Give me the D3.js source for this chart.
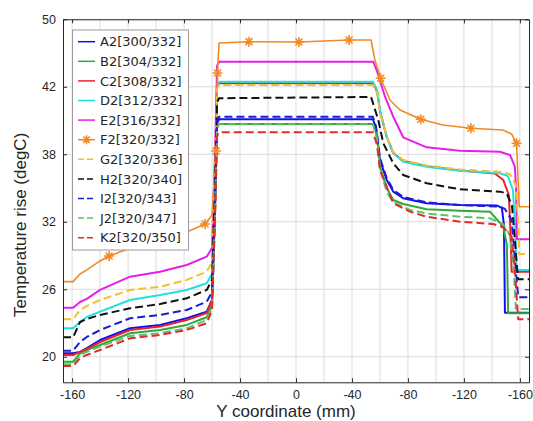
<!DOCTYPE html>
<html>
<head>
<meta charset="utf-8">
<script src="https://cdn.jsdelivr.net/npm/d3@7"></script>
<style>
  body { margin: 0; background: #fff; }
  svg text { font-family: "Liberation Sans", Arial, sans-serif; fill: #262626; }
  .legend text { font-family: "DejaVu Sans", sans-serif; }
</style>
</head>
<body>
<svg width="533" height="421"></svg>
<script>
// tick labels (the picture labels both halves with negative numbers)
const xTicks = [-160, -120, -80, -40, 0, 40, 80, 120, 160];
const xTickLabels = ["-160", "-120", "-80", "-40", "0", "-40", "-80", "-120", "-160"];
const yTicks = [20, 26, 32, 38, 44, 50];
const yTickLabels = ["20", "26", "32", "38", "42", "50"];

// series: [Y coordinate, temperature rise]
const A2 = [[-166.5,20.31],[-159.3,20.31],[-154.3,20.43],[-149.5,20.76],[-140,21.49],[-118.6,22.53],[-97.1,22.83],[-78.1,23.42],[-63.8,24.01],[-60,25.05],[-57.9,33.08],[-56.4,40.76],[-55,41.11],[55,41.11],[57.1,40.34],[60,37.49],[64.8,35.72],[69.5,34.68],[76.6,34.09],[93.4,33.64],[117.1,33.49],[143.4,33.45],[147.1,33.23],[148.6,31.72],[149.3,23.92],[166.5,23.92]];
const B2 = [[-166.5,19.56],[-159.3,19.56],[-154.3,20.31],[-149.5,20.6],[-140,21.05],[-118.6,22.09],[-97.1,22.38],[-78.1,22.83],[-63.8,23.51],[-60,24.6],[-57.9,32.65],[-56.4,40.34],[-55,40.69],[55,40.69],[57.9,39.72],[60,36.9],[64.8,35.01],[69.5,33.94],[76.6,33.58],[93.4,33.12],[117.1,32.99],[138.6,32.9],[148.1,31.56],[150.7,29.94],[151.6,23.87],[166.5,23.87]];
const C2 = [[-166.5,20.16],[-159.3,20.16],[-154.3,20.43],[-149.5,20.69],[-140,21.31],[-118.6,22.38],[-97.1,22.69],[-78.1,23.27],[-63.8,23.89],[-60,25.05],[-57.9,34.68],[-56.4,43.96],[-55,44.31],[55,44.31],[57.9,43.63],[60,41.85],[64.8,39.54],[69.5,38.12],[76.6,37.4],[93.4,36.93],[117.1,36.56],[142.1,36.29],[148.1,35.72],[152.1,34.38],[153.2,31.27],[154.1,27.56],[166.5,27.56]];
const D2 = [[-166.5,22.53],[-159.3,22.53],[-154.3,23.09],[-149.5,23.54],[-140,24.01],[-118.6,25.05],[-97.1,25.49],[-78.1,25.94],[-63.8,26.53],[-60,27.36],[-57.9,35.9],[-56.4,44.1],[-55,44.45],[55,44.45],[57.9,43.72],[60,41.94],[64.8,39.56],[69.5,38.09],[76.6,37.34],[93.4,36.9],[117.1,36.54],[145.7,36.31],[151.4,36.07],[155,34.83],[156.8,31.27],[157.6,27.72],[166.5,27.72]];
const E2 = [[-166.5,24.36],[-159.3,24.36],[-154.3,24.87],[-149.5,25.14],[-140,25.94],[-118.6,27.12],[-97.1,27.56],[-78.1,28.16],[-63.8,28.9],[-60,29.67],[-57.9,37.95],[-56.4,45.88],[-55,46.23],[55.2,46.23],[57.6,45.49],[63.6,43.12],[69.5,41.34],[76.6,39.51],[93.4,38.62],[117.1,38.32],[145.7,38.23],[152.9,37.94],[156.4,36.9],[157.4,34.5],[157.9,30.44],[166.5,30.44]];
const F2 = [[-166.5,26.68],[-159.3,26.68],[-154.3,27.36],[-149.5,27.72],[-140,28.52],[-133.6,28.96],[-118.6,29.64],[-97.1,30.38],[-78.1,31.09],[-65,31.8],[-60,32.6],[-57.1,38.29],[-56.1,45.23],[-55,47.89],[-33.6,48.01],[2.1,47.98],[37.9,48.16],[53.6,48.16],[56.4,46.38],[60.5,44.76],[67.1,42.83],[74.3,41.94],[89.1,41.11],[105,40.6],[125,40.31],[147.9,40.16],[154.1,39.8],[157.6,38.98],[159.5,33.34],[166.5,33.34]];
const G2 = [[-166.5,23.33],[-159.3,23.33],[-154.3,24.16],[-149.5,24.52],[-140,25.05],[-118.6,25.94],[-97.1,26.23],[-78.1,26.83],[-63.8,27.56],[-60,28.43],[-57.9,36.29],[-56.4,43.8],[-55,44.16],[55,44.16],[57.9,43.45],[60,41.76],[64.8,39.54],[69.5,38.2],[76.6,37.49],[93.4,37.0],[117.1,36.65],[145.7,36.45],[152.9,36.25],[157.1,35.27],[159,31.27],[159.5,29.14],[166.5,29.14]];
const H2 = [[-166.5,21.73],[-159.3,21.73],[-154.3,23.09],[-149.5,23.36],[-140,23.72],[-118.6,24.31],[-97.1,24.69],[-78.1,25.2],[-63.8,25.94],[-60,26.83],[-57.9,34.9],[-56.4,42.62],[-55,42.98],[53.6,43.1],[58.8,41.05],[62.4,38.98],[69.5,37.2],[76.6,36.16],[93.4,35.42],[117.1,34.89],[145.7,34.68],[150.5,34.53],[154.3,33.49],[156.4,30.38],[158.6,26.89],[166.5,26.89]];
const I2 = [[-166.5,20.54],[-159.3,20.54],[-154.3,21.31],[-149.5,21.76],[-140,22.38],[-118.6,23.42],[-97.1,23.72],[-78.1,24.16],[-63.8,24.9],[-60,25.76],[-57.9,33.55],[-56.4,41.0],[-55,41.34],[55,41.34],[57.1,40.52],[60,37.67],[64.8,35.89],[69.5,34.83],[76.6,34.2],[93.4,33.72],[117.1,33.49],[145.7,33.34],[149.3,33.14],[154.1,32.16],[156.4,28.6],[158.8,25.29],[166.5,25.29]];
const J2 = [[-166.5,19.33],[-159.3,19.33],[-154.3,20.16],[-149.5,20.43],[-140,20.9],[-118.6,21.85],[-97.1,22.09],[-78.1,22.53],[-63.8,23.27],[-60,24.34],[-57.9,32.5],[-56.4,40.3],[-55,40.66],[55,40.66],[57.9,39.4],[60,36.78],[64.8,34.65],[69.5,33.76],[81.4,33.05],[93.4,32.74],[117.1,32.45],[138.6,32.31],[147.9,31.8],[152.9,30.83],[155.7,27.72],[157.1,24.25],[166.5,24.25]];
const K2 = [[-166.5,19.18],[-159.3,19.18],[-154.3,19.87],[-149.5,20.16],[-140,20.6],[-118.6,21.64],[-97.1,21.94],[-78.1,22.38],[-63.8,22.98],[-60,24.16],[-57.9,32.05],[-56.4,39.6],[-55,39.96],[55,39.96],[57.9,38.83],[60,36.6],[69.5,33.64],[81.4,32.9],[93.4,32.45],[117.1,32.01],[140.9,31.8],[148.1,31.51],[154.1,30.68],[156.4,27.72],[158.8,23.33],[166.5,23.33]];

// asterisk markers sit on these F2 points
const f2Markers = [-133.6, -65, -57.1, -56.1, -33.6, 2.1, 37.9, 60.5, 89.1, 125, 157.6];

const seriesNames = ["A2[300/332]", "B2[304/332]", "C2[308/332]", "D2[312/332]", "E2[316/332]", "F2[320/332]",
  "G2[320/336]", "H2[320/340]", "I2[320/343]", "J2[320/347]", "K2[320/350]"];
const seriesData = [A2, B2, C2, D2, E2, F2, G2, H2, I2, J2, K2];
const seriesColors = ["#1010f0", "#2eaa3a", "#e8232a", "#22e0e0", "#e81ee8", "#f08a24",
  "#f2c02e", "#111111", "#1c1cd0", "#5fbf6a", "#e62a2a"];
const seriesDashed = [false, false, false, false, false, false, true, true, true, true, true];

const svg = d3.select("svg");
const margin = {left: 63, right: 4, top: 19.3, bottom: 38.7};
const W = +svg.attr("width"), H = +svg.attr("height");

const x = d3.scaleLinear().domain([-166.5, 166.5]).range([margin.left, W - margin.right]);
const y = d3.scaleLinear().domain([17.73, 50]).range([H - margin.bottom, margin.top]);

// grid
const grid = svg.append("g").attr("stroke", "#dcdcdc").attr("stroke-width", 1);
grid.selectAll(".gx").data(d3.range(-160, 161, 20)).join("line")
  .attr("x1", d => x(d)).attr("x2", d => x(d))
  .attr("y1", y.range()[0]).attr("y2", y.range()[1]);
grid.selectAll(".gy").data(yTicks).join("line")
  .attr("x1", x.range()[0]).attr("x2", x.range()[1])
  .attr("y1", d => y(d)).attr("y2", d => y(d));

// lines
const line = d3.line().x(d => x(d[0])).y(d => y(d[1]));
svg.append("clipPath").attr("id", "clip").append("rect")
  .attr("x", x.range()[0]).attr("y", y.range()[1])
  .attr("width", x.range()[1] - x.range()[0]).attr("height", y.range()[0] - y.range()[1]);

const plot = svg.append("g").attr("clip-path", "url(#clip)");
seriesData.forEach((s, i) => {
  plot.append("path")
    .datum(s)
    .attr("d", line)
    .attr("fill", "none")
    .attr("stroke", seriesColors[i])
    .attr("stroke-width", i === 5 ? 1.6 : 2)
    .attr("stroke-linejoin", "round")
    .attr("stroke-dasharray", seriesDashed[i] ? "8,4" : null);
});

// asterisk marker
function star(g, cx, cy, r, color) {
  const d = `M${cx - r},${cy}L${cx + r},${cy}M${cx},${cy - r}L${cx},${cy + r}` +
    `M${cx - r * 0.7},${cy - r * 0.7}L${cx + r * 0.7},${cy + r * 0.7}` +
    `M${cx - r * 0.7},${cy + r * 0.7}L${cx + r * 0.7},${cy - r * 0.7}`;
  g.append("path").attr("d", d).attr("stroke", color).attr("stroke-width", 1.6).attr("fill", "none");
}
F2.filter(p => f2Markers.includes(p[0])).forEach(p => star(plot, x(p[0]), y(p[1]), 5, seriesColors[5]));

// axes
const axisColor = "#262626";
const fmtX = (d, i) => xTickLabels[i];
const fmtY = (d, i) => yTickLabels[i];

const axBottom = svg.append("g").attr("transform", `translate(0,${y.range()[0]})`)
  .call(d3.axisBottom(x).tickValues(xTicks).tickFormat(fmtX).tickSizeInner(-4).tickSizeOuter(0).tickPadding(8));
const axTop = svg.append("g").attr("transform", `translate(0,${y.range()[1]})`)
  .call(d3.axisTop(x).tickValues(xTicks).tickFormat("").tickSizeInner(-4).tickSizeOuter(0));
const axLeft = svg.append("g").attr("transform", `translate(${x.range()[0]},0)`)
  .call(d3.axisLeft(y).tickValues(yTicks).tickFormat(fmtY).tickSizeInner(-4).tickSizeOuter(0).tickPadding(7));
const axRight = svg.append("g").attr("transform", `translate(${x.range()[1]},0)`)
  .call(d3.axisRight(y).tickValues(yTicks).tickFormat("").tickSizeInner(-4).tickSizeOuter(0));

[axBottom, axTop, axLeft, axRight].forEach(a => {
  a.select(".domain").attr("stroke", axisColor);
  a.selectAll(".tick line").attr("stroke", axisColor);
  a.selectAll("text").attr("font-size", 12.5).attr("fill", axisColor)
    .style("font-family", "'Liberation Sans', Arial, sans-serif");
});

// axis titles
svg.append("text")
  .attr("x", (x.range()[0] + x.range()[1]) / 2 - 10)
  .attr("y", 417)
  .attr("text-anchor", "middle")
  .attr("font-size", 17)
  .text("Y coordinate (mm)");
svg.append("text")
  .attr("transform", `translate(26,${(y.range()[0] + y.range()[1]) / 2 + 24}) rotate(-90)`)
  .attr("text-anchor", "middle")
  .attr("font-size", 17)
  .text("Temperature rise (degC)");

// legend
const legend = svg.append("g").attr("class", "legend").attr("transform", "translate(72.5,30)");
legend.append("rect")
  .attr("width", 116).attr("height", 220)
  .attr("fill", "#fff").attr("stroke", "#9a9a9a").attr("stroke-width", 1);
const items = legend.selectAll(".item").data(seriesNames).join("g")
  .attr("class", "item")
  .attr("transform", (d, i) => `translate(0,${11.7 + i * 19.6})`);
items.append("line")
  .attr("x1", 5.5).attr("x2", 22.5)
  .attr("stroke", (d, i) => seriesColors[i])
  .attr("stroke-width", 1.5)
  .attr("stroke-dasharray", (d, i) => seriesDashed[i] ? "6,3" : null);
items.filter((d, i) => i === 5).each(function () { star(d3.select(this), 14, 0, 4.5, seriesColors[5]); });
items.append("text")
  .attr("x", 27.5).attr("dy", "0.36em")
  .attr("font-size", 13)
  .text(d => d);
</script>
</body>
</html>
